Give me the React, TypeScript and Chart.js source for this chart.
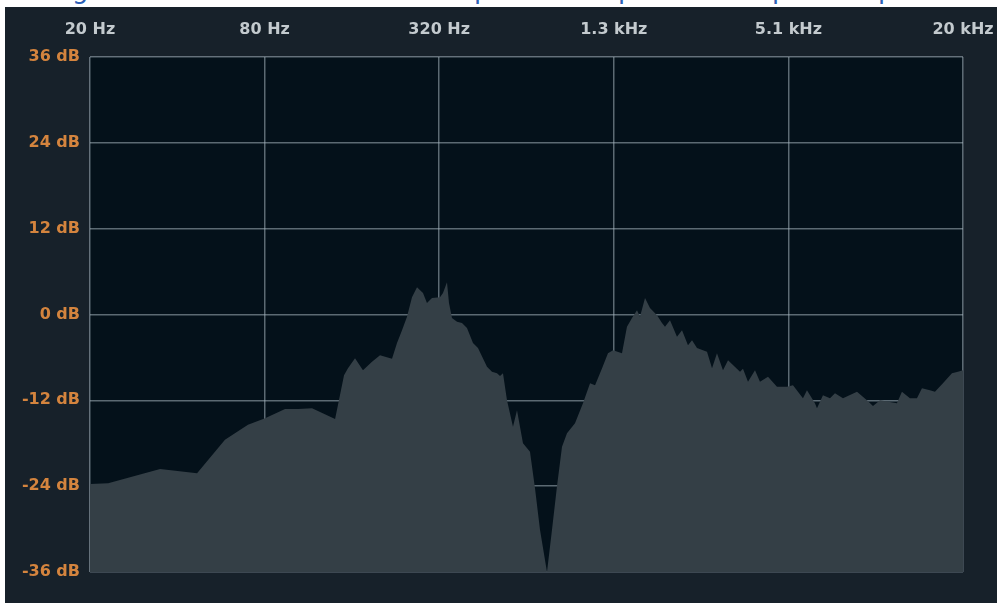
import React, { useEffect, useRef } from "react";
import { Chart, registerables } from "chart.js";

Chart.register(...registerables);

const freqHz = [
  20, 23.1, 34.9, 46.8, 58.4, 70.1, 80.3, 94.1, 104.3, 116.6,
  140, 146.7, 150.3, 155.1, 164, 174.7, 187.7, 200, 220, 228.9,
  238.2, 247.8, 257.8, 268.3, 281.4, 290.4, 302.2, 322, 329.8, 340.4,
  345.9, 354.2, 368.6, 383.5, 399, 418.5, 435.4, 467.7, 486.6, 506.4,
  518.6, 531, 548.2, 574.9, 593.5, 622.4, 658, 684.7, 712.4, 753.1,
  783.6, 815.3, 848.4, 882.7, 940.6, 1002, 1060, 1103, 1166, 1222,
  1272, 1366, 1421, 1479, 1539, 1576, 1640, 1706, 1804, 1877,
  1922, 2000, 2114, 2200, 2307, 2382, 2478, 2683, 2792, 2904,
  3046, 3170, 3487, 3570, 3715, 3927, 4086, 4354, 4676, 5062,
  5310, 5748, 5933, 6322, 6424, 6737, 7123, 7411, 7897, 8826,
  9555, 10022, 10594, 12120, 12612, 13440, 14208, 14784, 15752, 16390,
  17464, 18758, 19674, 20480,
];

const levelDb = [
  -23.7, -23.6, -21.6, -22.2, -17.5, -15.4, -14.5, -13.2, -13.2, -13.1,
  -14.6, -10.6, -8.5, -7.5, -6.1, -7.8, -6.6, -5.7, -6.2, -4.0,
  -2.2, -0.3, 2.4, 3.8, 3.0, 1.6, 2.3, 2.4, 3.0, 4.5,
  1.6, -0.5, -1.0, -1.2, -1.9, -4.0, -4.7, -7.3, -8.0, -8.2,
  -8.6, -8.2, -12.0, -15.7, -13.4, -18.0, -19.2, -24.3, -30.1, -36,
  -30.1, -24.0, -18.5, -16.6, -15.2, -12.4, -9.6, -9.9, -7.5, -5.4,
  -5.0, -5.4, -1.7, -0.5, 0.6, -0.3, 2.3, 0.9, -0.1, -1.2,
  -1.7, -0.8, -3.1, -2.2, -4.3, -3.6, -4.7, -5.2, -7.5, -5.4,
  -7.8, -6.4, -8.0, -7.6, -9.4, -7.8, -9.4, -8.7, -10.1, -10.1,
  -9.9, -11.7, -10.6, -12.4, -13.1, -11.3, -11.7, -11.0, -11.7, -10.8,
  -12.0, -12.8, -12.0, -12.4, -10.8, -11.7, -11.7, -10.3, -10.6, -10.8,
  -9.6, -8.2, -8.0, -7.8,
];

const xTickValues = [20, 80, 320, 1280, 5120, 20480];
const xTickLabels = ["20 Hz", "80 Hz", "320 Hz", "1.3 kHz", "5.1 kHz", "20 kHz"];
const yTickValues = [-36, -24, -12, 0, 12, 24, 36];
const yTickLabels = ["-36 dB", "-24 dB", "-12 dB", "0 dB", "12 dB", "24 dB", "36 dB"];

const topFragments = ["g", "p", "p", "p", "p"];
const topFragmentX = [72, 474, 618, 772, 878];

const plotBackground = {
  id: "plotBackground",
  beforeDraw(chart: any) {
    const { ctx, chartArea } = chart;
    if (!chartArea) return;
    ctx.save();
    ctx.fillStyle = "#04111a";
    ctx.fillRect(chartArea.left, chartArea.top, chartArea.right - chartArea.left, chartArea.bottom - chartArea.top);
    ctx.restore();
  },
};

export default function App() {
  const canvasRef = useRef<HTMLCanvasElement | null>(null);

  useEffect(() => {
    if (!canvasRef.current) return;
    const gridColor = "rgba(165, 180, 190, 0.55)";
    const chart = new Chart(canvasRef.current, {
      type: "line",
      data: {
        datasets: [
          {
            data: freqHz.map((f, i) => ({ x: f, y: levelDb[i] })),
            borderWidth: 0,
            borderColor: "#343f46",
            backgroundColor: "#343f46",
            fill: "start",
            pointRadius: 0,
            tension: 0,
          },
        ],
      },
      options: {
        animation: false,
        responsive: true,
        maintainAspectRatio: false,
        layout: { padding: { left: 0, top: 0, right: 34, bottom: 31 } },
        plugins: {
          legend: { display: false },
          tooltip: { enabled: false },
        },
        scales: {
          x: {
            type: "logarithmic",
            position: "top",
            min: 20,
            max: 20480,
            z: 1,
            afterBuildTicks: (s: any) => {
              s.ticks = xTickValues.map((v) => ({ value: v }));
            },
            afterFit: (s: any) => {
              s.height = 50;
              s.paddingLeft = 0;
              s.paddingRight = 0;
            },
            ticks: {
              autoSkip: false,
              maxRotation: 0,
              padding: 18,
              color: "#c3cace",
              font: { family: "'DejaVu Sans', sans-serif", size: 16, weight: "bold" },
              callback: (_v: any, i: number) => xTickLabels[i],
            },
            grid: { color: gridColor, lineWidth: 1.5, drawTicks: false },
            border: { display: false },
          },
          y: {
            type: "linear",
            min: -36,
            max: 36,
            z: 1,
            afterBuildTicks: (s: any) => {
              s.ticks = yTickValues.map((v) => ({ value: v }));
            },
            afterFit: (s: any) => {
              s.width = 85;
              s.paddingTop = 0;
              s.paddingBottom = 0;
            },
            ticks: {
              padding: 10,
              color: "#d4843e",
              font: { family: "'DejaVu Sans', sans-serif", size: 16, weight: "bold" },
              callback: (_v: any, i: number) => yTickLabels[i],
            },
            grid: { color: gridColor, lineWidth: 1.5, drawTicks: false },
            border: { display: false },
          },
        },
      },
      plugins: [plotBackground],
    });
    return () => chart.destroy();
  }, []);

  return (
    <div style={{ position: "absolute", left: 0, top: 0, width: 997, height: 603, background: "#ffffff", overflow: "hidden" }}>
      <div style={{ position: "absolute", left: 0, top: 0, width: 997, height: 7, overflow: "hidden" }}>
        {topFragments.map((t, i) => (
          <span
            key={i}
            style={{
              position: "absolute",
              left: topFragmentX[i],
              top: -24,
              fontSize: 26,
              lineHeight: "26px",
              fontFamily: "'DejaVu Sans', sans-serif",
              color: "#2c5fb5",
            }}
          >
            {t}
          </span>
        ))}
      </div>
      <div style={{ position: "absolute", left: 5, top: 7, width: 992, height: 596, background: "#17212a" }}>
        <canvas ref={canvasRef} />
      </div>
    </div>
  );
}
